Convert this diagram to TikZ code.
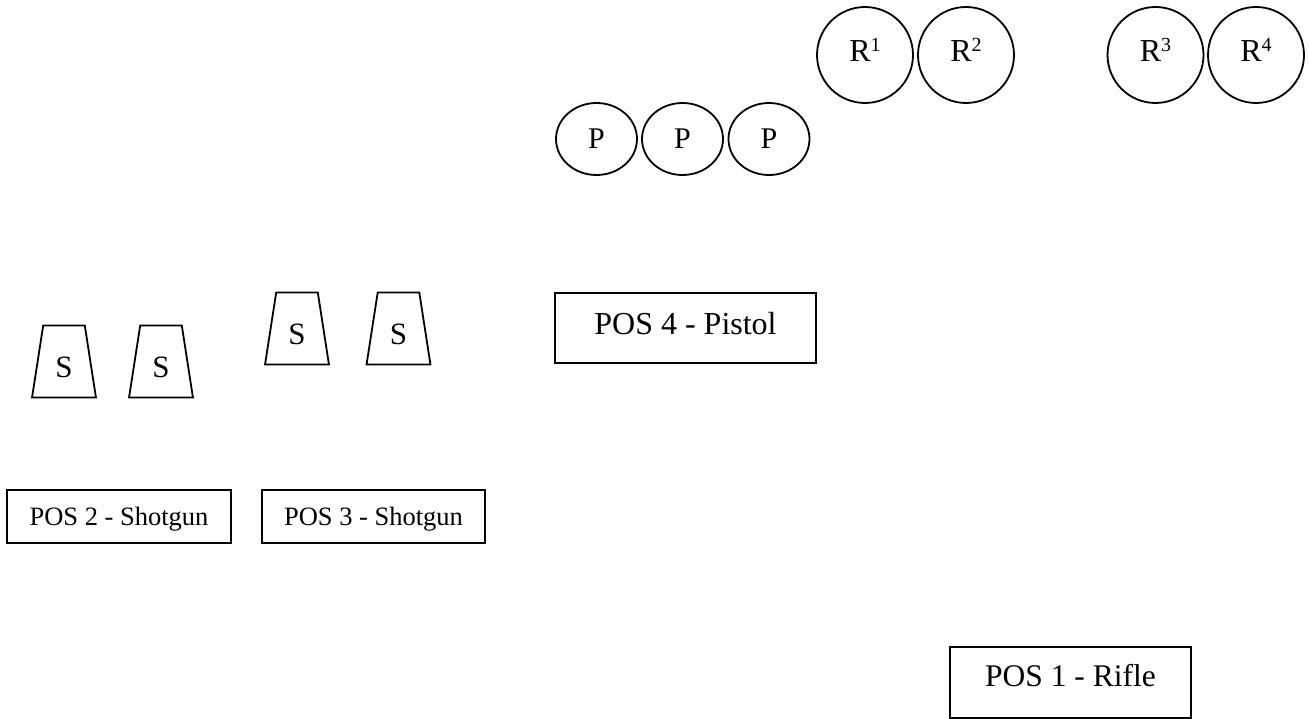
\documentclass[tikz,border=0pt]{standalone}
\usepackage{fontspec}
\setmainfont{Liberation Serif}
\usetikzlibrary{shapes.geometric}
\newcommand{\shiftbox}[2]{\raisebox{#1}[\height][\depth]{#2}}
\newcommand{\rsup}[1]{\shiftbox{5pt}{R\raisebox{10pt}{\fontsize{20}{20}\selectfont #1}}}
\tikzset{
  line/.style={line width=1.8pt},
  pell/.style={line, ellipse, draw, minimum width=81pt, minimum height=72pt, inner sep=0pt, font=\fontsize{30}{34}\selectfont},
  rcirc/.style={line, circle, draw, minimum size=96pt, inner sep=0pt, font=\fontsize{32}{36}\selectfont},
  sbox/.style={line, trapezium, draw, trapezium left angle=77.5, trapezium right angle=77.5, trapezium stretches=true, minimum width=64pt, minimum height=72pt, inner sep=0pt, font=\fontsize{31}{34}\selectfont},
  posbox/.style={line, rectangle, draw, inner sep=0pt}
}
\begin{document}
\begin{tikzpicture}[x=1pt, y=-1pt]
\useasboundingbox (0,0) rectangle (1309,719);
% pistol targets
\node[pell] (p1) at (596.5,139) {P};
\node[pell] (p2) at (682.5,139) {P};
\node[pell] (p3) at (769,139) {P};
% rifle targets
\node[rcirc] (r1) at (865,55) {\rsup{1}};
\node[rcirc] (r2) at (966,55) {\rsup{2}};
\node[rcirc] (r3) at (1155.5,55) {\rsup{3}};
\node[rcirc] (r4) at (1256,55) {\rsup{4}};
% shotgun targets
\node[sbox] (s1) at (64,361.5) {\shiftbox{-6pt}{S}};
\node[sbox] (s2) at (161,361.5) {\shiftbox{-6pt}{S}};
\node[sbox] (s3) at (297,328.5) {\shiftbox{-6pt}{S}};
\node[sbox] (s4) at (398.5,328.5) {\shiftbox{-6pt}{S}};
% positions
\node[posbox, minimum width=261pt, minimum height=70pt, font=\fontsize{32}{38}\selectfont] (pos4) at (685.5,328) {\shiftbox{4pt}{POS 4 - Pistol}};
\node[posbox, minimum width=224pt, minimum height=53pt, font=\fontsize{26.5}{31}\selectfont] (pos2) at (119,516.5) {\shiftbox{-3pt}{POS 2 - Shotgun}};
\node[posbox, minimum width=223pt, minimum height=53pt, font=\fontsize{26.5}{31}\selectfont] (pos3) at (373.5,516.5) {\shiftbox{-3pt}{POS 3 - Shotgun}};
\node[posbox, minimum width=241pt, minimum height=71pt, font=\fontsize{31.5}{37}\selectfont] (pos1) at (1070.5,682.5) {\shiftbox{7pt}{POS 1 - Rifle}};
\end{tikzpicture}
\end{document}
